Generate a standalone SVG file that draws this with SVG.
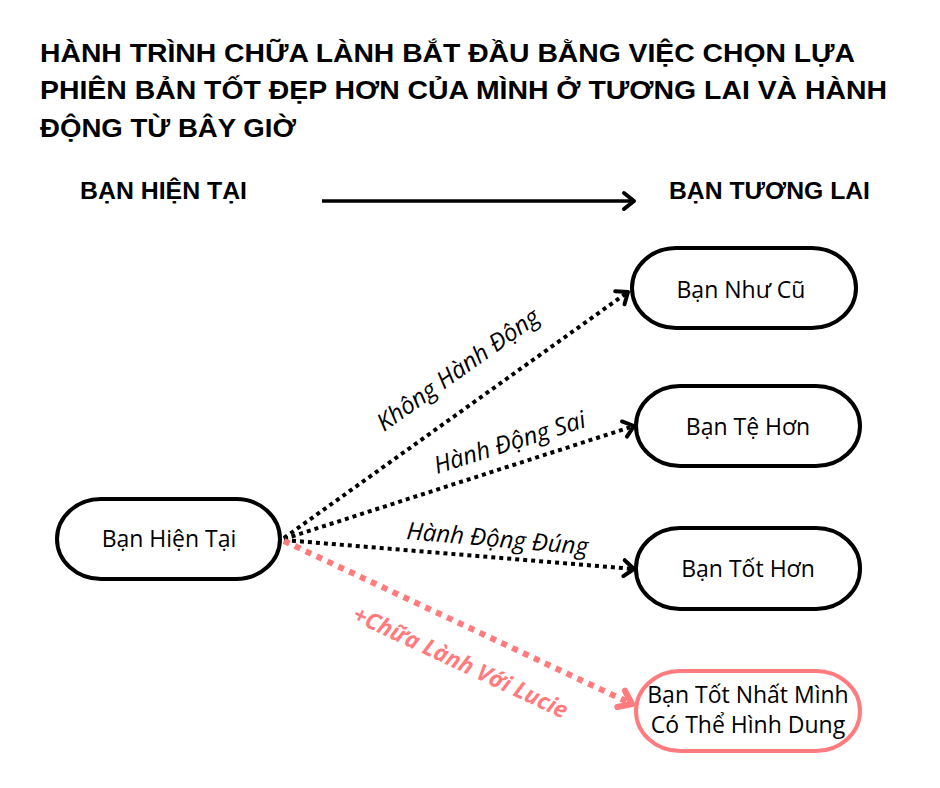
<svg xmlns="http://www.w3.org/2000/svg" width="940" height="788" viewBox="0 0 940 788">
<style>
.title{font-family:"Liberation Sans","DejaVu Sans",sans-serif;font-weight:bold;font-size:25px;fill:#000}
.hdr{font-family:"Liberation Sans","DejaVu Sans",sans-serif;font-weight:bold;font-size:24px;fill:#000}
.node{fill:#fff;stroke:#000;stroke-width:4}
.pnode{fill:#fff;stroke:#FF7B7E;stroke-width:4}
.lbl{font-family:"Open Sans","Noto Sans",sans-serif;font-size:23px;fill:#000;text-anchor:middle}
.elbl{font-family:"Open Sans","Noto Sans",sans-serif;font-style:italic;font-size:24px;fill:#000}
.plbl{font-family:"Open Sans","Noto Sans",sans-serif;font-style:italic;font-weight:bold;font-size:23px;fill:#FF7B7E}
.dot{fill:none;stroke:#000;stroke-width:4;stroke-dasharray:4 4}
.pdot{fill:none;stroke:#FF7B7E;stroke-width:6;stroke-dasharray:6 6}
</style>
<defs>
<marker id="ah" markerUnits="userSpaceOnUse" markerWidth="30" markerHeight="30" refX="15" refY="15" orient="auto" overflow="visible">
<path d="M5 7 L15 15 L5 23" fill="none" stroke="#000" stroke-width="4" stroke-linecap="round" stroke-linejoin="round"/>
</marker>
<marker id="pah" markerUnits="userSpaceOnUse" markerWidth="30" markerHeight="30" refX="15" refY="15" orient="auto" overflow="visible">
<path d="M3 6 L15 15 L3 24" fill="none" stroke="#FF7B7E" stroke-width="6" stroke-linecap="round" stroke-linejoin="round"/>
</marker>
</defs>
<rect width="940" height="788" fill="#fff"/>
<g id="title">
<text class="title" x="40" y="62" textLength="815" lengthAdjust="spacingAndGlyphs">HÀNH TRÌNH CHỮA LÀNH BẮT ĐẦU BẰNG VIỆC CHỌN LỰA</text>
<text class="title" x="40" y="99" textLength="847" lengthAdjust="spacingAndGlyphs">PHIÊN BẢN TỐT ĐẸP HƠN CỦA MÌNH Ở TƯƠNG LAI VÀ HÀNH</text>
<text class="title" x="40" y="137" textLength="256" lengthAdjust="spacingAndGlyphs">ĐỘNG TỪ BÂY GIỜ</text>
</g>
<g id="header">
<text class="hdr" x="80" y="199" textLength="167" lengthAdjust="spacingAndGlyphs">BẠN HIỆN TẠI</text>
<text class="hdr" x="669" y="199" textLength="201" lengthAdjust="spacingAndGlyphs">BẠN TƯƠNG LAI</text>
<line x1="322" y1="201" x2="634" y2="201" stroke="#000" stroke-width="3.5" marker-end="url(#ah)"/>
</g>
<g id="connectors">
<line class="dot" x1="284" y1="538" x2="628" y2="292" marker-end="url(#ah)"/>
<line class="dot" x1="284" y1="539" x2="634" y2="426" marker-end="url(#ah)"/>
<line class="dot" x1="284" y1="540" x2="634" y2="569" marker-end="url(#ah)"/>
<line class="pdot" x1="284" y1="541" x2="632" y2="704" marker-end="url(#pah)"/>
<text class="elbl" transform="translate(384,432) rotate(-35.3)">Không Hành Động</text>
<text class="elbl" transform="translate(437,474) rotate(-17.5)">Hành Động Sai</text>
<text class="elbl" transform="translate(406,539) rotate(5)">Hành Động Đúng</text>
<text class="plbl" transform="translate(351,620) rotate(25)">+Chữa Lành Với Lucie</text>
</g>
<g id="node-hien-tai">
<rect class="node" x="57" y="499" width="223" height="80" rx="44" ry="40"/>
<text class="lbl" x="169" y="547">Bạn Hiện Tại</text>
</g>
<g id="node-nhu-cu">
<rect class="node" x="632" y="248" width="224" height="80" rx="44" ry="40"/>
<text class="lbl" x="741" y="298">Bạn Như Cũ</text>
</g>
<g id="node-te-hon">
<rect class="node" x="636" y="386" width="224" height="80" rx="44" ry="40"/>
<text class="lbl" x="748" y="435">Bạn Tệ Hơn</text>
</g>
<g id="node-tot-hon">
<rect class="node" x="636" y="528" width="224" height="81" rx="44" ry="40"/>
<text class="lbl" x="748" y="577">Bạn Tốt Hơn</text>
</g>
<g id="node-tot-nhat">
<rect class="pnode" x="636" y="671" width="224" height="80" rx="44" ry="40"/>
<text class="lbl" x="748" y="703">Bạn Tốt Nhất Mình</text>
<text class="lbl" x="748" y="733">Có Thể Hình Dung</text>
</g>
</svg>
